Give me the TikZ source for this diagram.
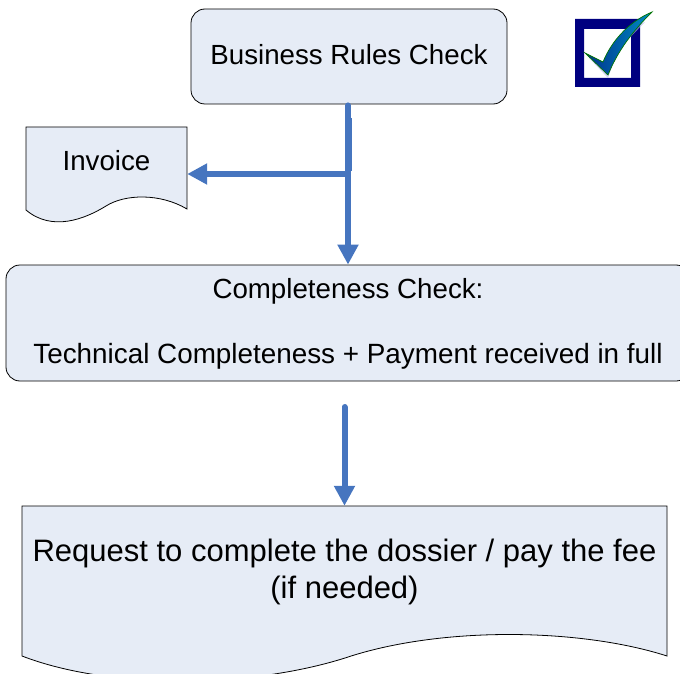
\documentclass[tikz,border=0pt]{standalone}
\usepackage{fontspec}
\setmainfont{Liberation Sans}
\usetikzlibrary{arrows.meta}
\definecolor{boxfill}{RGB}{230,236,246}
\definecolor{flow}{RGB}{70,117,191}
\definecolor{tickdark}{RGB}{0,0,128}
\definecolor{ticklow}{RGB}{0,50,140}
\definecolor{tickhigh}{RGB}{0,140,195}
\tikzset{
  x=1pt,y=-1pt,
  boxline/.style={draw=black,line width=0.8pt,fill=boxfill},
  roundbox/.style={boxline,rounded corners=14pt,inner sep=0pt},
  labeltext/.style={font=\fontsize{27.7}{33}\selectfont,align=center,inner sep=0pt,text=black},
  flowline/.style={draw=flow,line width=6pt},
  flowarrow/.style={flowline,-{Triangle[length=20pt,width=20pt]}},
}
\begin{document}
\begin{tikzpicture}
\useasboundingbox (0,0) rectangle (680,674);
\clip (0,0) rectangle (680,674);
% boxes
\node[roundbox,minimum width=316pt,minimum height=95pt] (biz) at (349,56.5) {};
\node[labeltext] (biztext) at (349,55) {Business Rules Check};
\node[roundbox,minimum width=684pt,minimum height=116pt] (comp) at (348,323) {};
\node[labeltext] (comptitle) at (348,291) {Completeness Check:};
\node[labeltext,font=\fontsize{27.85}{33}\selectfont] (compbody) at (348,356) {Technical Completeness + Payment received in full};
% invoice document
\path[boxline] (26,127) -- (187,127) -- (187,209)
  .. controls (160,193) and (125,194) .. (106,206)
  .. controls (85,219) and (52,232) .. (26,210) -- cycle;
\node[inner sep=0pt,minimum width=161pt,minimum height=94pt] (inv) at (106.5,174) {};
\node[labeltext] (invtext) at (106.5,161) {Invoice};
% request document
\path[boxline] (22,506) -- (667,506) -- (667,656)
  .. controls (580,628) and (440,626) .. (345,658)
  .. controls (250,688) and (110,690) .. (22,656) -- cycle;
\node[inner sep=0pt,minimum width=645pt,minimum height=130pt] (doc) at (344.5,571) {};
\node[labeltext,font=\fontsize{31}{37}\selectfont] (doctext) at (344.5,572) {Request to complete the dossier / pay the fee\\(if needed)};
% connectors
\coordinate (junction) at (biz.south |- inv.east);
\coordinate (lowstart) at (344.5,407);
\draw[flowarrow,line cap=round] ([yshift=-1pt,xshift=-1pt]biz.south) -- ([xshift=-1pt]biz.south |- comp.north);
\draw[draw=flow,line width=6pt] (biz.south |- 0,118) -- ([yshift=3pt]junction);
\draw[flowarrow] (junction) -- (inv.east);
\draw[flowarrow,line cap=round] (lowstart) -- (doc.north);
% check box icon
\path[fill=tickdark,even odd rule] (575,19) rectangle (640,87) (584,29) rectangle (631,78);
\path[fill=black!25!blue!30,opacity=.6] (589,58) -- (604,68) -- (630,28) -- (645,22) -- (618,50) -- (608,78) -- cycle;
\path[left color=ticklow,right color=tickhigh,draw=green!45!black,line width=0.7pt]
  (585,53) -- (603,62) .. controls (611,42) and (628,22) .. (652,12)
  .. controls (640,24) and (620,45) .. (608,75) -- cycle;
\end{tikzpicture}
\end{document}
